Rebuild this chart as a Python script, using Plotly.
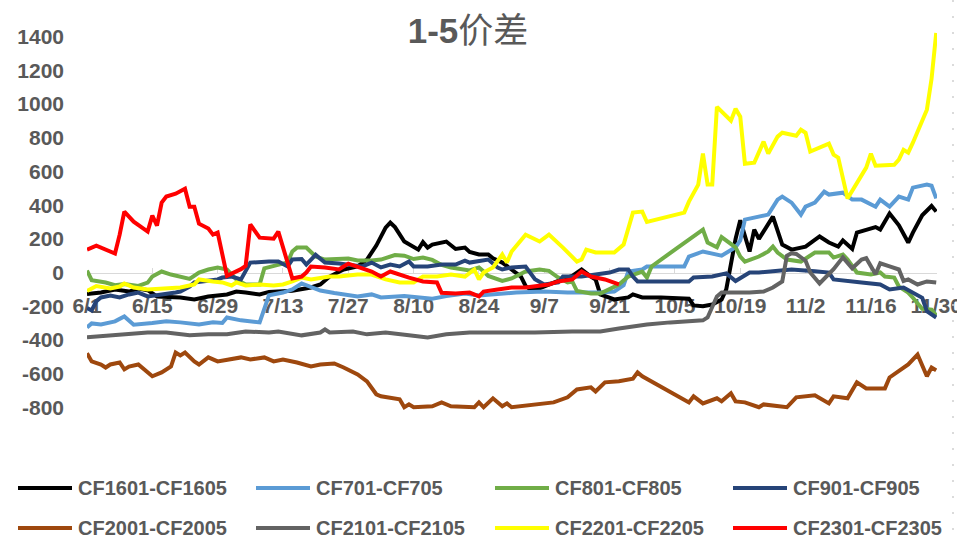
import plotly.graph_objects as go

YEAR = 2021

# ---- series: (month/day, spread) ----
cf1601 = [("6/1", -128), ("6/4", -119), ("6/7", -101), ("6/10", -113), ("6/12", -95), ("6/14", -105),
          ("6/16", -142), ("6/21", -148), ("6/24", -160), ("6/27", -142), ("7/1", -130), ("7/3", -113),
          ("7/5", -119), ("7/8", -130), ("7/10", -115), ("7/15", -108), ("7/19", -89), ("7/21", -71),
          ("7/23", -24), ("7/26", 18), ("7/29", 36), ("7/31", 77), ("8/2", 160), ("8/4", 267), ("8/5", 296),
          ("8/6", 270), ("8/8", 184), ("8/11", 136), ("8/12", 180), ("8/13", 148), ("8/14", 166),
          ("8/17", 184), ("8/19", 140), ("8/21", 148), ("8/22", 122), ("8/24", 107), ("8/26", 107),
          ("8/27", 85), ("8/29", 59), ("8/31", 18), ("9/2", -24), ("9/3", -80), ("9/4", -100), ("9/5", -105),
          ("9/8", -70), ("9/10", -50), ("9/13", -20), ("9/15", 18), ("9/17", -24), ("9/18", -41),
          ("9/19", -130), ("9/22", -160), ("9/25", -148), ("9/26", -130), ("9/28", -148), ("10/2", -148),
          ("10/8", -155), ("10/9", -195), ("10/11", -200), ("10/13", -190), ("10/15", -160), ("10/16", -100),
          ("10/17", 50), ("10/18", 200), ("10/19", 310), ("10/21", 125), ("10/22", 255), ("10/23", 200),
          ("10/26", 332), ("10/28", 166), ("10/30", 136), ("11/2", 154), ("11/5", 214), ("11/7", 178),
          ("11/9", 154), ("11/10", 190), ("11/12", 140), ("11/13", 237), ("11/17", 270), ("11/18", 255),
          ("11/20", 350), ("11/22", 280), ("11/24", 178), ("11/25", 237), ("11/27", 340), ("11/29", 395),
          ("11/30", 362)]

cf701 = [("6/1", -326), ("6/2", -302), ("6/4", -308), ("6/7", -290), ("6/9", -261), ("6/11", -310),
         ("6/15", -300), ("6/18", -290), ("6/21", -296), ("6/25", -308), ("6/28", -296), ("6/30", -300),
         ("7/1", -267), ("7/4", -284), ("7/8", -296), ("7/9", -219), ("7/10", -135), ("7/13", -119),
         ("7/15", -100), ("7/17", -65), ("7/21", -107), ("7/24", -122), ("7/29", -142), ("8/1", -130),
         ("8/3", -148), ("8/8", -140), ("8/12", -150), ("8/14", -155), ("8/17", -140), ("8/21", -125),
         ("8/24", -136), ("8/28", -125), ("9/1", -119), ("9/7", -113), ("9/12", -119), ("9/19", -119),
         ("9/22", -113), ("9/24", -75), ("9/25", 6), ("9/28", 18), ("9/29", 36), ("10/7", 36), ("10/8", 95),
         ("10/11", 125), ("10/13", 115), ("10/15", 100), ("10/18", 150), ("10/19", 190), ("10/20", 314),
         ("10/23", 332), ("10/25", 344), ("10/27", 433), ("10/28", 451), ("10/30", 415), ("11/1", 344),
         ("11/2", 391), ("11/4", 415), ("11/6", 480), ("11/7", 463), ("11/10", 474), ("11/12", 433),
         ("11/14", 433), ("11/17", 391), ("11/18", 433), ("11/20", 391), ("11/22", 451), ("11/24", 433),
         ("11/25", 504), ("11/28", 522), ("11/29", 515), ("11/30", 440)]

cf801 = [("6/1", 12), ("6/2", -45), ("6/5", -59), ("6/7", -75), ("6/9", -68), ("6/12", -80), ("6/14", -60),
         ("6/15", -24), ("6/17", 6), ("6/19", -12), ("6/23", -38), ("6/25", 0), ("6/27", 18), ("6/29", 30),
         ("7/1", 18), ("7/3", -41), ("7/5", -71), ("7/8", -71), ("7/9", 25), ("7/11", 40), ("7/14", 60),
         ("7/15", 125), ("7/16", 148), ("7/18", 148), ("7/20", 95), ("7/22", 77), ("7/24", 80), ("7/27", 83),
         ("7/29", 71), ("8/1", 71), ("8/3", 77), ("8/5", 95), ("8/6", 104), ("8/8", 100), ("8/10", 80),
         ("8/12", 89), ("8/14", 75), ("8/16", 45), ("8/18", 30), ("8/22", 12), ("8/24", 30), ("8/25", 6),
         ("8/26", -20), ("8/29", -50), ("8/31", -35), ("9/3", 6), ("9/6", 18), ("9/8", 10), ("9/10", -30),
         ("9/12", -59), ("9/13", -53), ("9/14", -110), ("9/17", -125), ("9/19", -125), ("9/21", -101),
         ("9/23", -71), ("9/25", -24), ("9/28", 5), ("9/29", -30), ("9/30", 36), ("10/5", 136),
         ("10/11", 255), ("10/12", 178), ("10/14", 150), ("10/15", 210), ("10/18", 150), ("10/19", 95),
         ("10/20", 65), ("10/23", 95), ("10/25", 125), ("10/26", 154), ("10/27", 119), ("10/29", 77),
         ("11/1", 65), ("11/4", 119), ("11/7", 119), ("11/8", 89), ("11/10", 107), ("11/11", 77),
         ("11/13", 0), ("11/16", -12), ("11/18", 0), ("11/19", -24), ("11/21", -30), ("11/22", -83),
         ("11/24", -119), ("11/25", -150), ("11/27", -215), ("11/29", -220), ("11/30", -255)]

cf901 = [("6/1", -210), ("6/2", -225), ("6/3", -170), ("6/4", -148), ("6/6", -136), ("6/8", -148),
         ("6/10", -130), ("6/12", -119), ("6/14", -142), ("6/18", -130), ("6/20", -119), ("6/21", -113),
         ("6/23", -83), ("6/24", -59), ("6/26", -53), ("6/29", -41), ("6/30", -30), ("7/2", -24), ("7/4", -41),
         ("7/6", 59), ("7/10", 65), ("7/12", 65), ("7/14", 36), ("7/15", 77), ("7/17", 80), ("7/18", 47),
         ("7/20", 105), ("7/22", 59), ("7/25", 53), ("7/27", 47), ("7/30", 36), ("8/1", 59), ("8/3", 30),
         ("8/5", 47), ("8/7", 36), ("8/9", 65), ("8/10", 36), ("8/13", 36), ("8/16", 47), ("8/19", 47),
         ("8/21", 71), ("8/22", 59), ("8/26", 77), ("8/28", 30), ("8/29", 18), ("8/31", 30), ("9/3", 36),
         ("9/5", -40), ("9/7", -71), ("9/10", -59), ("9/11", -24), ("9/15", -24), ("9/18", -12), ("9/21", 0),
         ("9/23", 18), ("9/25", 18), ("9/26", -24), ("9/27", -53), ("10/8", -53), ("10/9", -30),
         ("10/13", -24), ("10/16", -5), ("10/18", -50), ("10/21", 0), ("10/23", 0), ("10/25", 6),
         ("10/30", 18), ("11/4", 8), ("11/7", 0), ("11/8", -41), ("11/11", -53), ("11/14", -59),
         ("11/18", -71), ("11/20", -101), ("11/23", -89), ("11/25", -119), ("11/27", -150), ("11/28", -230),
         ("11/30", -267)]

cf2001 = [("6/1", -480), ("6/2", -528), ("6/4", -546), ("6/5", -564), ("6/6", -546), ("6/8", -534),
          ("6/9", -575), ("6/10", -558), ("6/12", -546), ("6/14", -593), ("6/15", -616), ("6/17", -593),
          ("6/19", -558), ("6/20", -475), ("6/21", -492), ("6/22", -475), ("6/24", -528), ("6/25", -546),
          ("6/27", -504), ("6/29", -528), ("7/2", -516), ("7/4", -504), ("7/6", -516), ("7/9", -504),
          ("7/11", -528), ("7/13", -516), ("7/16", -534), ("7/19", -558), ("7/21", -546), ("7/24", -540),
          ("7/26", -564), ("7/29", -605), ("7/31", -646), ("8/2", -723), ("8/3", -735), ("8/7", -753),
          ("8/8", -800), ("8/9", -783), ("8/10", -800), ("8/14", -794), ("8/16", -771), ("8/18", -794),
          ("8/23", -800), ("8/24", -771), ("8/25", -800), ("8/27", -747), ("8/29", -794), ("8/30", -777),
          ("8/31", -800), ("9/5", -783), ("9/9", -771), ("9/12", -741), ("9/14", -694), ("9/17", -682),
          ("9/18", -706), ("9/20", -652), ("9/23", -646), ("9/26", -630), ("9/27", -593), ("9/28", -616),
          ("10/1", -664), ("10/4", -712), ("10/8", -771), ("10/9", -735), ("10/11", -777), ("10/14", -747),
          ("10/15", -765), ("10/17", -717), ("10/18", -765), ("10/20", -771), ("10/23", -800),
          ("10/24", -783), ("10/28", -794), ("10/29", -800), ("10/31", -741), ("11/4", -729),
          ("11/7", -777), ("11/8", -735), ("11/11", -747), ("11/13", -652), ("11/15", -688),
          ("11/19", -688), ("11/20", -623), ("11/22", -587), ("11/24", -546), ("11/26", -487),
          ("11/28", -616), ("11/29", -564), ("11/30", -581)]

cf2101 = [("6/1", -385), ("6/4", -379), ("6/7", -373), ("6/10", -367), ("6/14", -356), ("6/18", -356),
          ("6/23", -373), ("6/27", -367), ("7/1", -367), ("7/5", -350), ("7/10", -356), ("7/12", -350),
          ("7/17", -373), ("7/21", -356), ("7/22", -338), ("7/23", -356), ("7/28", -350), ("7/31", -367),
          ("8/4", -356), ("8/9", -373), ("8/13", -385), ("8/17", -367), ("8/22", -356), ("8/30", -356),
          ("9/5", -356), ("9/13", -350), ("9/19", -350), ("9/23", -332), ("9/26", -320), ("9/29", -308),
          ("10/4", -296), ("10/8", -290), ("10/11", -284), ("10/12", -267), ("10/14", -142),
          ("10/15", -119), ("10/21", -119), ("10/24", -113), ("10/26", -89), ("10/28", -53), ("10/29", 100),
          ("10/30", 115), ("10/31", 110), ("11/2", 70), ("11/3", 0), ("11/5", -65), ("11/8", 20),
          ("11/10", 90), ("11/12", 25), ("11/14", 77), ("11/15", 85), ("11/17", -10), ("11/18", 55),
          ("11/20", 36), ("11/22", 18), ("11/23", -50), ("11/24", -41), ("11/26", -71), ("11/28", -53),
          ("11/30", -59)]

cf2201 = [("6/1", -110), ("6/3", -80), ("6/6", -95), ("6/8", -83), ("6/9", -65), ("6/11", -89),
          ("6/14", -101), ("6/18", -95), ("6/21", -89), ("6/24", -71), ("6/25", -41), ("6/28", -53),
          ("6/30", -59), ("7/2", -77), ("7/3", -59), ("7/5", -77), ("7/8", -71), ("7/11", -77), ("7/13", -71),
          ("7/15", -53), ("7/17", -30), ("7/19", -41), ("7/23", -24), ("7/25", -24), ("7/29", -12),
          ("8/1", -12), ("8/4", -41), ("8/7", -59), ("8/10", -59), ("8/12", -24), ("8/15", -24),
          ("8/18", -12), ("8/21", -24), ("8/23", 18), ("8/24", -41), ("8/25", 0), ("8/27", 30),
          ("8/29", 107), ("8/30", 59), ("8/31", 125), ("9/3", 225), ("9/6", 184), ("9/8", 225),
          ("9/11", 148), ("9/14", 65), ("9/15", 77), ("9/16", 136), ("9/18", 119), ("9/22", 119),
          ("9/24", 166), ("9/26", 356), ("9/28", 362), ("9/29", 300), ("10/7", 356), ("10/8", 421),
          ("10/10", 522), ("10/11", 706), ("10/12", 522), ("10/13", 522), ("10/14", 984), ("10/17", 901),
          ("10/18", 972), ("10/19", 925), ("10/20", 646), ("10/22", 652), ("10/24", 777), ("10/25", 706),
          ("10/27", 807), ("10/28", 830), ("10/31", 812), ("11/1", 848), ("11/2", 830), ("11/3", 718),
          ("11/7", 765), ("11/8", 700), ("11/9", 682), ("11/11", 439), ("11/15", 623), ("11/16", 706),
          ("11/17", 634), ("11/21", 640), ("11/22", 670), ("11/23", 729), ("11/24", 712), ("11/25", 771),
          ("11/28", 967), ("11/29", 1150), ("11/30", 1423)]

cf2301 = [("6/1", 136), ("6/3", 160), ("6/7", 113), ("6/8", 225), ("6/9", 362), ("6/11", 302),
          ("6/14", 243), ("6/15", 338), ("6/16", 279), ("6/17", 415), ("6/18", 451), ("6/20", 468),
          ("6/22", 498), ("6/23", 391), ("6/24", 391), ("6/25", 290), ("6/27", 261), ("6/28", 225),
          ("6/29", 237), ("7/1", -20), ("7/4", 20), ("7/5", 40), ("7/6", 285), ("7/8", 207), ("7/11", 201),
          ("7/12", 243), ("7/15", -35), ("7/17", -24), ("7/18", 0), ("7/19", 36), ("7/22", 30), ("7/25", 18),
          ("7/27", 53), ("7/29", 36), ("8/1", 6), ("8/3", -24), ("8/5", 6), ("8/9", -30), ("8/12", -53),
          ("8/15", -59), ("8/16", -120), ("8/19", -125), ("8/22", -119), ("8/24", -142), ("8/25", -113),
          ("8/28", -101), ("8/31", -89), ("9/3", -89), ("9/8", -71), ("9/10", -53), ("9/13", -41),
          ("9/15", 6), ("9/17", -24), ("9/20", -41), ("9/23", -71)]

series_names = ["CF1601-CF1605", "CF701-CF705", "CF801-CF805", "CF901-CF905",
                "CF2001-CF2005", "CF2101-CF2105", "CF2201-CF2205", "CF2301-CF2305"]
series_data = [cf1601, cf701, cf801, cf901, cf2001, cf2101, cf2201, cf2301]
series_colors = ["#000000", "#5B9BD5", "#70AD47", "#264478",
                 "#9E480E", "#636363", "#FFFF00", "#FF0000"]

tick_labels = ["6/1", "6/15", "6/29", "7/13", "7/27", "8/10", "8/24",
               "9/7", "9/21", "10/5", "10/19", "11/2", "11/16", "11/30"]
y_ticks = [-800, -600, -400, -200, 0, 200, 400, 600, 800, 1000, 1200, 1400]


def to_date(md):
    m, d = md.split("/")
    return f"{YEAR}-{int(m):02d}-{int(d):02d}"


# ---- page geometry (pixels) ----
FW, FH = 957, 541
ML, MR, MT, MB = 87, 20, 30, 127
PW, PH = FW - ML - MR, FH - MT - MB
Y_MIN, Y_MAX = -840, 1440


def px_x(px):
    return (px - ML) / PW


def px_y(py):
    return (FH - MB - py) / PH


TEXT = "#595959"
FONT = "Liberation Sans, Arial, sans-serif"

fig = go.Figure()
for name, data, color in zip(series_names, series_data, series_colors):
    fig.add_trace(go.Scatter(
        x=[to_date(md) for md, _ in data],
        y=[v for _, v in data],
        mode="lines",
        name=name,
        line=dict(color=color, width=4),
        showlegend=False,
    ))

# legend: two rows of four entries drawn below the plot
col_line_x = [18, 256, 495, 733]
row_y = [488, 528]
shapes = []
annotations = []
for i, (name, color) in enumerate(zip(series_names, series_colors)):
    r, c = divmod(i, 4)
    x0 = col_line_x[c]
    y = row_y[r]
    shapes.append(dict(type="line", xref="paper", yref="paper",
                       x0=px_x(x0), x1=px_x(x0 + 54), y0=px_y(y), y1=px_y(y),
                       line=dict(color=color, width=4)))
    annotations.append(dict(xref="paper", yref="paper", x=px_x(x0 + 58), y=px_y(y),
                            xanchor="left", yanchor="middle", showarrow=False,
                            text=f"<b>{name}</b>",
                            font=dict(family=FONT, size=20, color=TEXT)))

# dotted chart border on the right edge
shapes.append(dict(type="line", xref="paper", yref="paper",
                   x0=px_x(953), x1=px_x(953), y0=px_y(0), y1=px_y(FH),
                   line=dict(color="#D0D0D0", width=1.5, dash="2px,14px")))

fig.update_layout(
    width=FW, height=FH,
    margin=dict(l=ML, r=MR, t=MT, b=MB, autoexpand=False),
    paper_bgcolor="white", plot_bgcolor="white",
    title=dict(text="<b>1-5</b>价差", x=468 / FW, xref="container", xanchor="center",
               y=1 - 31 / FH, yref="container", yanchor="middle",
               font=dict(family="Liberation Sans, Noto Sans CJK SC, sans-serif", size=35, color=TEXT)),
    shapes=shapes,
    annotations=annotations,
    showlegend=False,
)

fig.update_xaxes(
    type="date",
    range=[to_date("6/1"), to_date("11/30") + " 04:00"],
    tickvals=[to_date(t) for t in tick_labels],
    ticktext=[f"<b>{t}</b>" for t in tick_labels],
    tickfont=dict(family=FONT, size=21, color=TEXT),
    ticklabeloverflow="allow",
    automargin=False,
    anchor="free", position=(0 - Y_MIN) / (Y_MAX - Y_MIN),
    showline=True, linecolor="#D9D9D9", linewidth=1,
    ticks="inside", ticklen=5, tickcolor="#D9D9D9",
    ticklabelstandoff=14,
    showgrid=False, zeroline=False,
    layer="below traces",
)

fig.update_yaxes(
    range=[Y_MIN, Y_MAX],
    tickvals=y_ticks,
    ticktext=[f"<b>{v}</b>" for v in y_ticks],
    tickfont=dict(family=FONT, size=21, color=TEXT),
    automargin=False,
    showgrid=False, zeroline=False, showline=False,
    ticks="", ticklabelstandoff=22,
)

fig.write_html("out.html")
